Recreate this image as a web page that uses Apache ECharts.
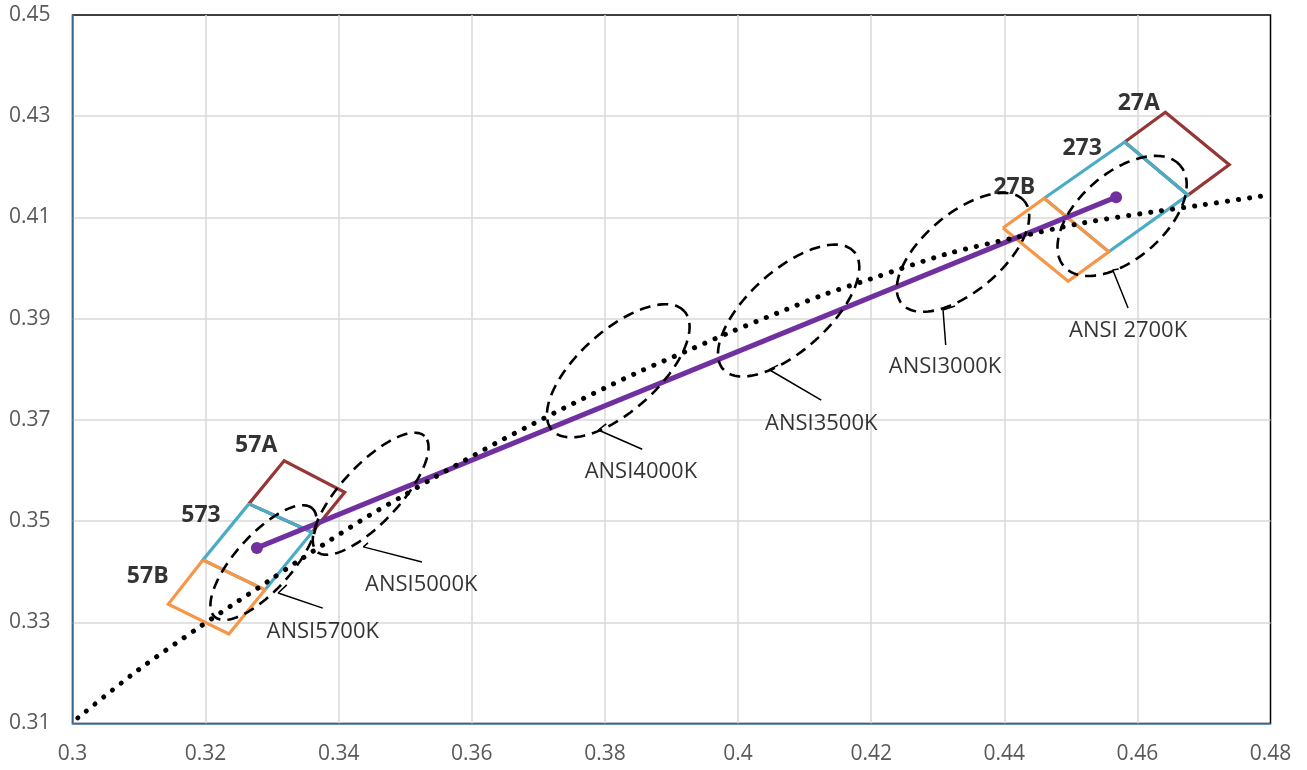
<!DOCTYPE html>
<html><head><meta charset="utf-8">
<script src="https://cdn.jsdelivr.net/npm/echarts@6/dist/echarts.min.js"></script>
<style>html,body{margin:0;padding:0;background:#fff}#c{width:1307px;height:770px}</style>
</head><body><div id="c"></div>
<script>
// ---------- data (CIE 1931 x, y) ----------
const xRange = [0.30, 0.48, 0.02];
const yRange = [0.31, 0.45, 0.02];

const planckianLocus = [
  [0.3008,0.3111],[0.3097,0.3204],[0.3189,0.3289],[0.3249,0.3342],[0.3294,0.3381],
  [0.3339,0.3421],[0.3387,0.3462],[0.3447,0.3512],[0.3497,0.3550],[0.3542,0.3585],
  [0.3591,0.3621],[0.3639,0.3656],[0.3689,0.3690],[0.3738,0.3723],[0.3803,0.3765],
  [0.3853,0.3796],[0.3923,0.3836],[0.3988,0.3873],[0.4059,0.3911],[0.4126,0.3946],
  [0.4198,0.3978],[0.4314,0.4028],[0.4413,0.4059],[0.4518,0.4089],[0.4624,0.4111],
  [0.4699,0.4125],[0.4796,0.4144]
];

const tunableLine = [[0.3277,0.3447],[0.4568,0.4140]];

const ellipseNames   = ['ANSI5700K','ANSI5000K','ANSI4000K','ANSI3500K','ANSI3000K','ANSI 2700K'];
const ellipseCenters = [[0.3287,0.3418],[0.3448,0.3554],[0.3820,0.3797],[0.4076,0.3916],[0.4338,0.4031],[0.4577,0.4103]];
const ellipseMajor   = [[0.007338,0.010720],[0.008095,0.011417],[0.009937,0.011767],[0.009825,0.011635],[0.009207,0.010161],[0.008731,0.009983]];
const ellipseMinor   = [[-0.003127,0.003701],[-0.003187,0.003908],[-0.004021,0.005873],[-0.004021,0.005873],[-0.003767,0.005903],[-0.004239,0.006413]];
const leaderHook     = [[0.3322,0.3374],[0.3444,0.3457],[0.3802,0.3692],[0.4060,0.3808],[0.4326,0.3925],[0.4572,0.3998]];
const leaderFrom     = [[0.3309,0.3358],[0.3437,0.3449],[0.3790,0.3680],[0.4047,0.3799],[0.4308,0.3917],[0.4563,0.3996]];
const leaderTo       = [[0.3376,0.3328],[0.3525,0.3419],[0.3856,0.3642],[0.4125,0.3739],[0.4312,0.3848],[0.4586,0.3921]];
const ellipseLabelAt = [[0.3376,0.3281],[0.3524,0.3374],[0.3854,0.3597],[0.4125,0.3692],[0.4311,0.3804],[0.4586,0.3876]];

const binNames   = ['57A','573','57B','27A','273','27B'];
const binCorners = [
  [[0.3265,0.3534],[0.3318,0.3619],[0.3409,0.3557],[0.3360,0.3478]],
  [[0.3265,0.3534],[0.3360,0.3478],[0.3289,0.3364],[0.3196,0.3423]],
  [[0.3196,0.3423],[0.3289,0.3364],[0.3235,0.3277],[0.3144,0.3336]],
  [[0.4581,0.4249],[0.4642,0.4308],[0.4738,0.4204],[0.4676,0.4144]],
  [[0.4460,0.4138],[0.4581,0.4249],[0.4676,0.4144],[0.4557,0.4032]],
  [[0.4398,0.4079],[0.4460,0.4138],[0.4557,0.4032],[0.4496,0.3974]]
];
const binLabelAt = [[0.3276,0.3650],[0.3193,0.3512],[0.3113,0.3390],[0.4602,0.4326],[0.4517,0.4237],[0.4415,0.4160]];

// ---------- build ----------
const FONT = "'Open Sans', 'Noto Sans', sans-serif";
const binColor = {A:'#953735', '3':'#4BACC6', B:'#F79646'};
const series = [];

binNames.forEach((n, i) => {
  const pts = binCorners[i].concat([binCorners[i][0]]);
  series.push({type:'line', name:n, data:pts, symbol:'none', silent:true, z:2,
    lineStyle:{color:binColor[n.slice(-1)], width:3.2, join:'miter'}});
});

series.push({type:'line', name:'line', data:tunableLine, symbol:'circle', symbolSize:12, silent:true, z:3,
  itemStyle:{color:'#7030A0'}, lineStyle:{color:'#7030A0', width:5}});

function ellipse(c, u, v) {
  const pts = [];
  for (let i = 0; i <= 120; i++) {
    const t = 2 * Math.PI * i / 120;
    pts.push([c[0] + u[0]*Math.cos(t) + v[0]*Math.sin(t), c[1] + u[1]*Math.cos(t) + v[1]*Math.sin(t)]);
  }
  return pts;
}
ellipseNames.forEach((n, i) => {
  series.push({type:'line', name:n, data:ellipse(ellipseCenters[i], ellipseMajor[i], ellipseMinor[i]),
    symbol:'none', silent:true, z:4, lineStyle:{color:'#000', width:2.6, type:[11,7]}});
  series.push({type:'line', name:n+'-leader', data:[leaderHook[i], leaderFrom[i], leaderTo[i]],
    symbol:'none', silent:true, z:4, lineStyle:{color:'#000', width:1.5}});
});

series.push({type:'line', name:'Planckian', data:planckianLocus, symbol:'none', smooth:0.3, silent:true, z:5,
  lineStyle:{color:'#000', width:5, type:[0.1,11], cap:'round'}});

series.push({type:'scatter', name:'ellipseLabels', symbolSize:1, silent:true, z:6,
  itemStyle:{color:'rgba(0,0,0,0)'},
  data: ellipseNames.map((n, i) => ({name:n, value:ellipseLabelAt[i]})),
  label:{show:true, position:'inside', formatter:'{b}', color:'#000', fontSize:22, fontFamily:FONT}});
series.push({type:'scatter', name:'binLabels', symbolSize:1, silent:true, z:6,
  itemStyle:{color:'rgba(0,0,0,0)'},
  data: binNames.map((n, i) => ({name:n, value:binLabelAt[i]})),
  label:{show:true, position:'inside', formatter:'{b}', color:'#000', fontSize:23, fontWeight:'bold', fontFamily:FONT}});

const axisCommon = {
  type:'value', axisTick:{show:false},
  axisLine:{show:true, onZero:false, lineStyle:{color:'#4F81BD', width:1.5}},
  splitLine:{show:true, showMinLine:false, showMaxLine:false, lineStyle:{color:'#D9D9D9', width:1.5}},
  axisLabel:{color:'#595959', fontSize:21, fontFamily:FONT}
};

const chart = echarts.init(document.getElementById('c'), null, {renderer:'canvas'});
chart.setOption({
  animation:false,
  backgroundColor:'#fff',
  grid:{left:72.5, right:36.5, top:15, bottom:46.5, show:true, borderColor:'#000', borderWidth:1.5,
        containLabel:false, outerBoundsMode:'none'},
  xAxis: Object.assign({}, axisCommon, {min:xRange[0], max:xRange[1], interval:xRange[2],
    axisLabel:Object.assign({}, axisCommon.axisLabel, {margin:20})}),
  yAxis: Object.assign({}, axisCommon, {min:yRange[0], max:yRange[1], interval:yRange[2],
    axisLabel:Object.assign({}, axisCommon.axisLabel, {margin:22})}),
  series: series
});
</script></body></html>
